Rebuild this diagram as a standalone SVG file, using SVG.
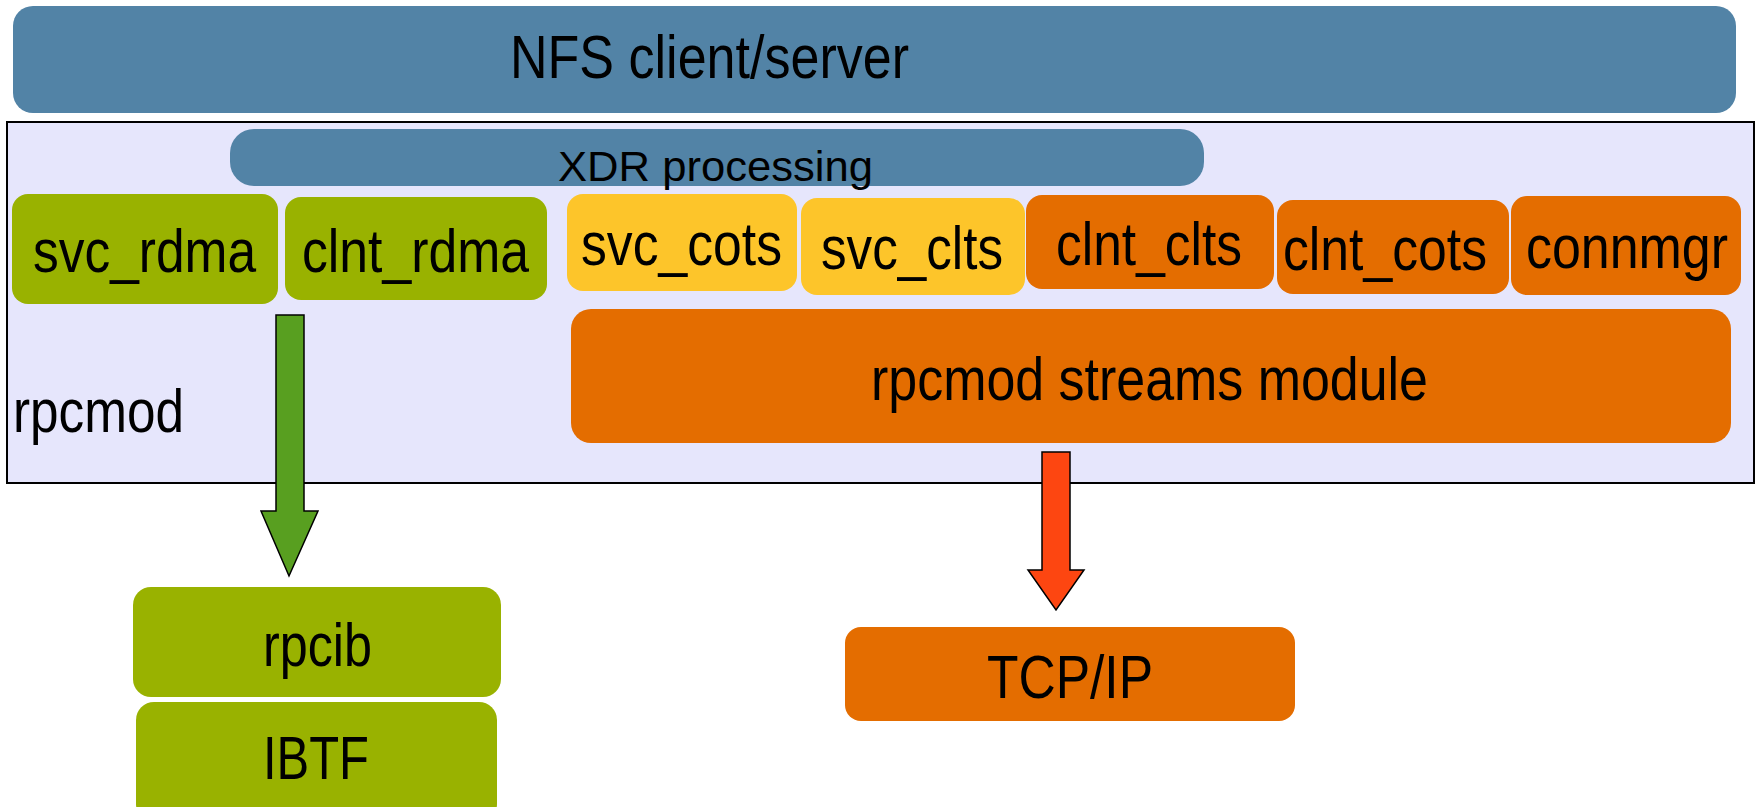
<svg xmlns="http://www.w3.org/2000/svg" width="1756" height="807" viewBox="0 0 1756 807">
<style>
text{font-family:"Liberation Sans",Arial,sans-serif;fill:#000;}
.big{font-size:62px;}
.blue{fill:#5283a6;}
.green{fill:#99b200;}
.yellow{fill:#fdc52a;}
.orange{fill:#e46d00;}
.arrow{stroke:#000;stroke-width:1.5;stroke-linejoin:miter;}
</style>
<rect width="1756" height="807" fill="#fff"/>
<g id="nfs">
<rect class="blue" x="13" y="6" width="1723" height="107" rx="20"/>
<text class="big" x="510" y="78" textLength="399" lengthAdjust="spacingAndGlyphs">NFS client/server</text>
</g>
<g id="rpcmod">
<rect x="7" y="122" width="1747" height="361" fill="#e6e6fc" stroke="#000" stroke-width="2"/>
<text class="big" x="13" y="432" textLength="171" lengthAdjust="spacingAndGlyphs">rpcmod</text>
</g>
<g id="xdr">
<rect class="blue" x="230" y="129" width="974" height="57" rx="24"/>
<text x="558" y="181" font-size="43" textLength="315" lengthAdjust="spacingAndGlyphs">XDR processing</text>
</g>
<g id="svc_rdma">
<rect class="green" x="12" y="194" width="266" height="110" rx="16"/>
<text class="big" x="33" y="272" textLength="223" lengthAdjust="spacingAndGlyphs">svc_rdma</text>
</g>
<g id="clnt_rdma">
<rect class="green" x="285" y="197" width="262" height="103" rx="16"/>
<text class="big" x="302" y="272" textLength="227" lengthAdjust="spacingAndGlyphs">clnt_rdma</text>
</g>
<g id="svc_cots">
<rect class="yellow" x="567" y="194" width="230" height="97" rx="16"/>
<text class="big" x="581" y="265" textLength="201" lengthAdjust="spacingAndGlyphs">svc_cots</text>
</g>
<g id="svc_clts">
<rect class="yellow" x="801" y="198" width="224" height="97" rx="16"/>
<text class="big" x="821" y="269" textLength="182" lengthAdjust="spacingAndGlyphs">svc_clts</text>
</g>
<g id="clnt_clts">
<rect class="orange" x="1026" y="195" width="248" height="94" rx="16"/>
<text class="big" x="1056" y="265" textLength="186" lengthAdjust="spacingAndGlyphs">clnt_clts</text>
</g>
<g id="clnt_cots">
<rect class="orange" x="1277" y="200" width="232" height="94" rx="16"/>
<text class="big" x="1283" y="270" textLength="204" lengthAdjust="spacingAndGlyphs">clnt_cots</text>
</g>
<g id="connmgr">
<rect class="orange" x="1511" y="196" width="230" height="99" rx="16"/>
<text class="big" x="1526" y="268" textLength="202" lengthAdjust="spacingAndGlyphs">connmgr</text>
</g>
<g id="streams">
<rect class="orange" x="571" y="309" width="1160" height="134" rx="20"/>
<text class="big" x="871" y="400" textLength="557" lengthAdjust="spacingAndGlyphs">rpcmod streams module</text>
</g>
<g id="rpcib">
<rect class="green" x="133" y="587" width="368" height="110" rx="18"/>
<text class="big" x="263" y="666" textLength="109" lengthAdjust="spacingAndGlyphs">rpcib</text>
</g>
<g id="ibtf">
<rect class="green" x="136" y="702" width="361" height="120" rx="18"/>
<text class="big" x="263" y="779" textLength="106" lengthAdjust="spacingAndGlyphs">IBTF</text>
</g>
<g id="tcpip">
<rect class="orange" x="845" y="627" width="450" height="94" rx="16"/>
<text class="big" x="987" y="698" textLength="166" lengthAdjust="spacingAndGlyphs">TCP/IP</text>
</g>
<g id="connectors">
<polygon class="arrow" fill="#589f20" points="276,315 304,315 304,511 318,511 289,576 261,511 276,511"/>
<polygon class="arrow" fill="#fd4611" points="1042,452 1070,452 1070,570 1084,570 1056,610 1028,570 1042,570"/>
</g>
</svg>
